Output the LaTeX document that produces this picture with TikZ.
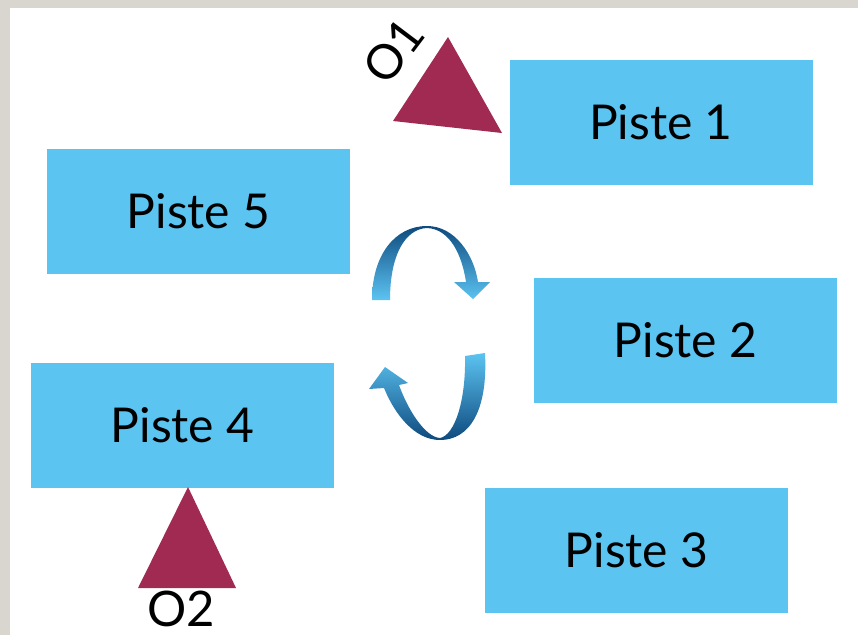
\documentclass[tikz,border=0pt]{standalone}
\usepackage{fontspec}
\setmainfont{Lato}
\definecolor{piste}{HTML}{5BC4F1}
\definecolor{obst}{HTML}{A12A52}
\definecolor{slide}{HTML}{D9D5CF}
\definecolor{arrdark}{HTML}{0E4A7E}
\definecolor{arrlight}{HTML}{5CC4F2}
\begin{document}
\begin{tikzpicture}[x=1pt,y=-1pt,
  pistebox/.style={fill=piste, minimum width=303pt, minimum height=125pt, inner sep=0pt, font=\fontsize{48}{58}\selectfont},
  obstlabel/.style={inner sep=0pt, font=\fontsize{48}{58}\selectfont}]
\fill[slide] (0,0) rectangle (858,635);
\fill[white] (10,8) rectangle (858,635);
\useasboundingbox (0,0) rectangle (858,635);
\node[pistebox] (p1) at (661,122.5) {Piste 1};
\node[pistebox] (p5) at (198.5,211) {Piste 5};
\node[pistebox] (p2) at (685.5,340) {Piste 2};
\node[pistebox] (p4) at (182.5,425) {Piste 4};
\node[pistebox] (p3) at (636.5,550) {Piste 3};
\fill[obst] (448,37) -- (393,121) -- (502,133) -- cycle;
\fill[obst] (188,487) -- (138,588) -- (236,588) -- cycle;
\node[obstlabel, rotate=53] (o1) at (394,51) {O1};
\node[obstlabel, font=\fontsize{49}{58}\selectfont] (o2) at (181,609) {O2};
\shade[top color=arrdark, bottom color=arrlight] (372,300) .. controls (372,255) and (395,226) .. (427,226) .. controls (455,226) and (474,255) .. (478,282) -- (490,282) -- (473,299) -- (454,282) -- (466,282) .. controls (462,255) and (450,229) .. (427,228) .. controls (405,229) and (390,255) .. (390,300) -- cycle;
\shade[top color=arrlight, bottom color=arrdark] (485,353) .. controls (488,410) and (470,440) .. (440,440) .. controls (415,440) and (395,415) .. (384,388) -- (369,389) -- (385,367) -- (408,383) -- (399,385) .. controls (408,410) and (425,437) .. (440,438) .. controls (455,435) and (466,400) .. (465,356) -- cycle;
\end{tikzpicture}
\end{document}
